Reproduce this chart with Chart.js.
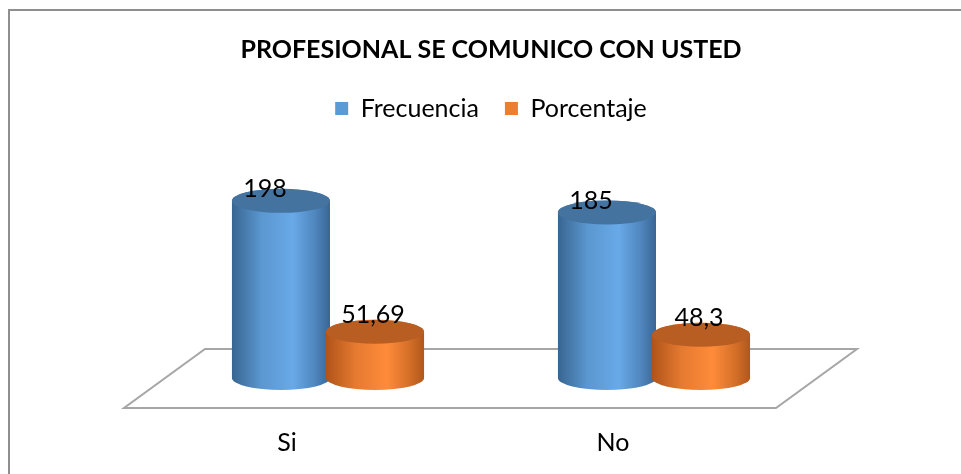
<!DOCTYPE html>
<html>
<head>
<meta charset="utf-8">
<script src="https://cdn.jsdelivr.net/npm/chart.js@4.4.0/dist/chart.umd.min.js"></script>
<style>
  html, body { margin: 0; padding: 0; background: #fff; }
  #wrap { width: 961px; height: 474px; position: relative; }
</style>
</head>
<body>
<div id="wrap"><canvas id="cylChart"></canvas></div>
<script>
// data
const categories = ['Si', 'No'];
const frecuencia = [198, 185];
const porcentaje = [51.69, 48.3];
const seriesNames = ['Frecuencia', 'Porcentaje'];

const blue = '#5b9bd5';
const orange = '#ed7d31';

// side / top shading for each series
const shades = [
  { side: ['#386591', '#5b97d0', '#68a9e8', '#4f86bd', '#3a6594'], top: '#44739f' },
  { side: ['#b0531a', '#e57a30', '#ff8b3a', '#d46f28', '#b0571c'], top: '#b95e23' }
];

const fmt = v => String(v).replace('.', ',');

// floor plane + outer frame
const floorPlugin = {
  id: 'floor',
  beforeDatasetsDraw(chart) {
    const { ctx, chartArea: a } = chart;
    ctx.save();
    ctx.strokeStyle = '#8f8f8f';
    ctx.lineWidth = 2;
    ctx.beginPath();
    ctx.moveTo(9, 474);
    ctx.lineTo(9, 10);
    ctx.lineTo(961, 10);
    ctx.stroke();

    ctx.fillStyle = '#fff';
    ctx.strokeStyle = '#a6a6a6';
    ctx.beginPath();
    ctx.moveTo(a.left + 40, a.bottom - 29);
    ctx.lineTo(a.right + 40, a.bottom - 29);
    ctx.lineTo(a.right - 41, a.bottom + 30);
    ctx.lineTo(a.left - 41, a.bottom + 30);
    ctx.closePath();
    ctx.fill();
    ctx.stroke();
    ctx.restore();
  }
};

// draw each bar as a cylinder, then its value
const cylinderPlugin = {
  id: 'cylinders',
  afterDatasetsDraw(chart) {
    const ctx = chart.ctx;
    ctx.save();
    chart.data.datasets.forEach((ds, i) => {
      const meta = chart.getDatasetMeta(i);
      const sh = shades[i];
      meta.data.forEach(bar => {
        const rx = bar.width / 2 + 2;
        const ry = 12;
        const x = bar.x, top = bar.y, base = bar.base;
        const g = ctx.createLinearGradient(x - rx, 0, x + rx, 0);
        g.addColorStop(0, sh.side[0]);
        g.addColorStop(0.3, sh.side[1]);
        g.addColorStop(0.62, sh.side[2]);
        g.addColorStop(0.85, sh.side[3]);
        g.addColorStop(1, sh.side[4]);
        ctx.beginPath();
        ctx.moveTo(x - rx, top);
        ctx.lineTo(x - rx, base);
        ctx.ellipse(x, base, rx, ry, 0, Math.PI, 0, true);
        ctx.lineTo(x + rx, top);
        ctx.ellipse(x, top, rx, ry, 0, 0, Math.PI, true);
        ctx.closePath();
        ctx.fillStyle = g;
        ctx.fill();

        ctx.beginPath();
        ctx.ellipse(x, top, rx, ry, 0, 0, Math.PI * 2);
        ctx.fillStyle = sh.top;
        ctx.fill();
      });
    });

    ctx.fillStyle = '#000';
    ctx.font = '25px Lato';
    ctx.textAlign = 'center';
    ctx.textBaseline = 'middle';
    chart.data.datasets.forEach((ds, i) => {
      const meta = chart.getDatasetMeta(i);
      meta.data.forEach((bar, j) => {
        const dx = i === 0 ? -16 : -2;
        const dy = i === 0 ? -12 : -17;
        ctx.fillText(fmt(ds.data[j]), bar.x + dx, bar.y + dy);
      });
    });
    ctx.restore();
  }
};

const ctx = document.getElementById('cylChart').getContext('2d');
new Chart(ctx, {
  type: 'bar',
  data: {
    labels: categories,
    datasets: [
      { label: seriesNames[0], data: frecuencia, backgroundColor: blue },
      { label: seriesNames[1], data: porcentaje, backgroundColor: orange }
    ]
  },
  options: {
    responsive: true,
    maintainAspectRatio: false,
    animation: false,
    categoryPercentage: 0.577,
    barPercentage: 1,
    layout: { padding: { left: 165, right: 144, top: 0, bottom: 0 } },
    plugins: {
      title: {
        display: true,
        text: 'PROFESIONAL SE COMUNICO CON USTED',
        color: '#000',
        font: { family: 'Lato', size: 25, weight: 'bold' },
        padding: { top: 35, bottom: 5 }
      },
      legend: {
        position: 'top',
        labels: {
          color: '#000',
          font: { family: 'Lato', size: 25 },
          boxWidth: 13,
          boxHeight: 13,
          padding: 26
        }
      },
      tooltip: { enabled: false }
    },
    scales: {
      x: {
        grid: { display: false },
        border: { display: false },
        ticks: {
          color: '#000',
          font: { family: 'Lato', size: 25 },
          padding: 42,
          labelOffset: -41
        },
        afterFit(scale) { scale.height = 96; }
      },
      y: {
        display: false,
        min: 0,
        max: 276
      }
    }
  },
  plugins: [floorPlugin, cylinderPlugin]
});
</script>
</body>
</html>
